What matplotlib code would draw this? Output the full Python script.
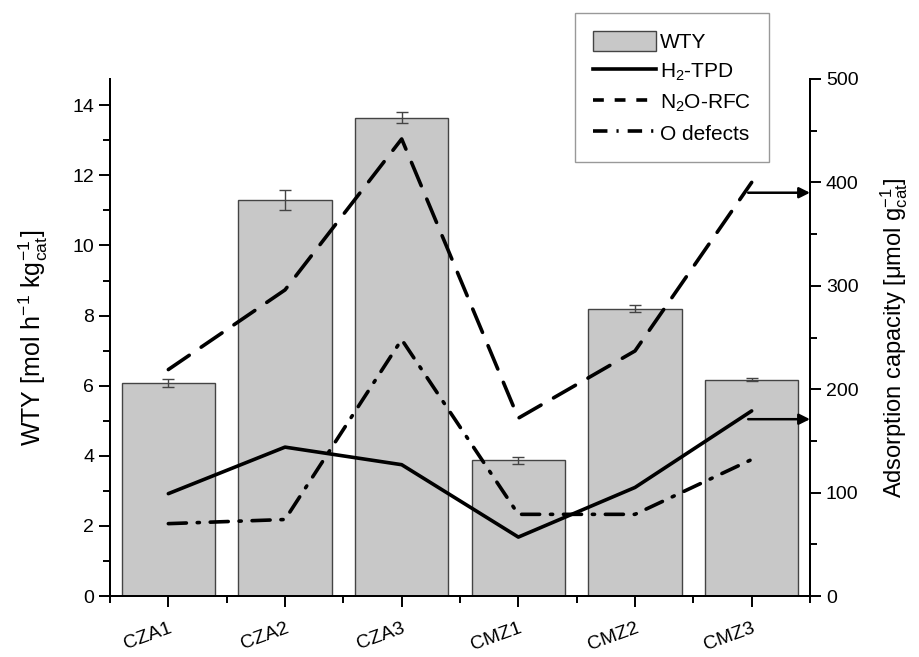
import matplotlib.pyplot as plt
from matplotlib.ticker import MultipleLocator
from matplotlib.lines import Line2D
from matplotlib.patches import Patch

plt.rcParams['font.family'] = ['Liberation Sans', 'DejaVu Sans']
plt.rcParams['mathtext.fontset'] = 'custom'
plt.rcParams['mathtext.rm'] = 'Liberation Sans'
plt.rcParams['mathtext.it'] = 'Liberation Sans:italic'

samples = ["CZA1", "CZA2", "CZA3", "CMZ1", "CMZ2", "CMZ3"]
wty = [6.08, 11.29, 13.64, 3.88, 8.2, 6.17]
wty_err = [0.11, 0.28, 0.16, 0.1, 0.1, 0.05]
h2_tpd = [99, 144, 127, 57, 105, 179]
n2o_rfc = [219, 296, 442, 172, 237, 400]
o_defects = [70, 74, 248, 79, 79, 132]

x = list(range(1, len(samples) + 1))

fig = plt.figure(figsize=(9.19, 6.57), dpi=100)
ax = fig.add_axes([0.1197, 0.0928, 0.7617, 0.787])
ax2 = ax.twinx()

ax.bar(x, wty, width=0.8, color="#c8c8c8", edgecolor="#444444", linewidth=1.0)
ax.errorbar(x, wty, yerr=wty_err, fmt="none", ecolor="#444444", elinewidth=1.0, capsize=4, capthick=1.0)

lw = 2.6
ax2.plot(x, h2_tpd, color="black", lw=lw, solid_capstyle="round")
ax2.plot(x, n2o_rfc, color="black", lw=lw, dashes=(7, 4), dash_capstyle="round")
ax2.plot(x, o_defects, color="black", lw=lw, dashes=(5, 3, 0.6, 3), dash_capstyle="round")

# arrows pointing to the right axis
for yv in [390, 171]:
    ax2.annotate("", xy=(6.5, yv), xytext=(5.97, yv),
                 arrowprops=dict(arrowstyle="-|>", color="black", lw=1.8, mutation_scale=16,
                                 shrinkA=0, shrinkB=0))

ax.set_xlim(0.5, 6.5)
ax.set_ylim(0, 14.75)
ax2.set_ylim(0, 500)

ax.set_xticks(x)
ax.set_xticklabels(samples, rotation=20, ha="right", rotation_mode="anchor", fontsize=14)
ax.xaxis.set_minor_locator(MultipleLocator(0.5))
ax.yaxis.set_major_locator(MultipleLocator(2))
ax.yaxis.set_minor_locator(MultipleLocator(1))
ax2.yaxis.set_major_locator(MultipleLocator(100))
ax2.yaxis.set_minor_locator(MultipleLocator(50))

for a in (ax, ax2):
    a.spines["top"].set_visible(False)
    for s in a.spines.values():
        s.set_linewidth(1.4)
    a.tick_params(which="major", direction="out", length=8, width=1.4, labelsize=14)
    a.tick_params(which="minor", direction="out", length=5, width=1.4)
ax.tick_params(axis="x", pad=9)

ax.set_ylabel(r"WTY [mol h$^{-1}$ kg$^{-1}_{\mathrm{cat}}$]", fontsize=18, labelpad=16)
ax2.set_ylabel(r"Adsorption capacity [μmol g$^{-1}_{\mathrm{cat}}$]", fontsize=17, labelpad=14)

handles = [
    Patch(facecolor="#c8c8c8", edgecolor="#444444", linewidth=1.0),
    Line2D([], [], color="black", lw=lw),
    Line2D([], [], color="black", lw=lw, dashes=(3, 3)),
    Line2D([], [], color="black", lw=lw, dashes=(4, 2.5, 0.6, 2.5)),
]
labels = ["WTY", r"H$_2$-TPD", r"N$_2$O-RFC", "O defects"]
leg = fig.legend(handles, labels, loc="upper left", bbox_to_anchor=(0.626, 0.98),
                 fontsize=15, fancybox=False, edgecolor="#999999", framealpha=1,
                 handlelength=3.0, handleheight=1.1, handletextpad=0.2, labelspacing=0.42,
                 borderpad=0.85, borderaxespad=0)
leg.get_frame().set_linewidth(1.0)

fig.savefig("out.png", dpi=100)
